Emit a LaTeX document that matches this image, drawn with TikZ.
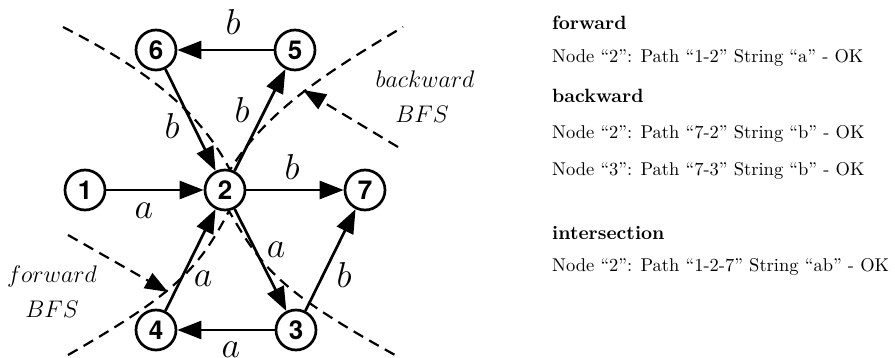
\RequirePackage{fix-cm}
\documentclass[tikz,border=0pt]{standalone}
\usepackage{fontspec}
\newfontfamily\numfont{TeX Gyre Heros}
\newfontfamily\logfont{lmroman10-regular}[Extension=.otf,BoldFont=lmroman10-bold]
\usetikzlibrary{arrows.meta}

\begin{document}
\begin{tikzpicture}[x=1pt,y=-1pt,
  vtx/.style={circle,draw,line width=2.7pt,fill=white,minimum size=40pt,inner sep=0pt,
    font=\numfont\bfseries\fontsize{26}{26}\selectfont},
  edge/.style={line width=2.7pt,-{Triangle[length=24pt,width=18pt]}},
  lbl/.style={inner sep=0pt,font=\fontsize{36}{40}\selectfont},
  cut/.style={line width=2.2pt,dash pattern=on 11pt off 7pt},
  hint/.style={cut,-{Triangle[length=23pt,width=17pt]}},
  tag/.style={inner sep=0pt,anchor=base,font=\fontsize{24}{28}\selectfont},
  info/.style={inner sep=0pt,anchor=base west,font=\logfont\fontsize{18.5}{22}\selectfont},
  head/.style={inner sep=0pt,anchor=base west,font=\logfont\bfseries\fontsize{19.2}{22}\selectfont}]

\useasboundingbox (0,0) rectangle (895,358);

% frontier curves of the two searches
\draw[cut] (63,27) .. controls (131,62) and (195,102) .. (230,170)
           .. controls (268,108) and (336,67) .. (403,27);
\draw[cut] (68,355) .. controls (178,292) and (199,268) .. (229,211)
           .. controls (262,268) and (278,290) .. (395,355);

% pointers to the frontiers
\coordinate (bwtail) at (398,147);
\coordinate (bwtip) at (303,90);
\coordinate (fwtail) at (68,235);
\coordinate (fwtip) at (168,292);
\draw[hint] (bwtail) -- (bwtip);
\draw[hint] (fwtail) -- (fwtip);

\node[tag] (bwA) at (425,88) {$backward$};
\node[tag] (bwB) at (422,123) {$BFS$};
\node[tag] (fwA) at (52,283) {$forward$};
\node[tag] (fwB) at (52,318) {$BFS$};

% graph vertices
\node[vtx] (n1) at (85,190) {1};
\node[vtx] (n2) at (225,190) {2};
\node[vtx] (n7) at (365,190) {7};
\node[vtx] (n6) at (156,50) {6};
\node[vtx] (n5) at (295,50) {5};
\node[vtx] (n4) at (156,330) {4};
\node[vtx] (n3) at (296,330) {3};

% labelled edges
\draw[edge] (n5) -- (n6);
\draw[edge] (n6) -- (n2);
\draw[edge] (n2) -- (n5);
\draw[edge] (n1) -- (n2);
\draw[edge] (n2) -- (n7);
\draw[edge] (n2) -- (n3);
\draw[edge] (n4) -- (n2);
\draw[edge] (n3) -- (n4);
\draw[edge] (n3) -- (n7);

\node[lbl] (e56) at (233,22) {$b$};
\node[lbl] (e62) at (172,126) {$b$};
\node[lbl] (e25) at (242,110) {$b$};
\node[lbl] (e27) at (292,167) {$b$};
\node[lbl] (e37) at (344,275) {$b$};
\node[lbl] (e12) at (144,211) {$a$};
\node[lbl] (e23) at (276,250) {$a$};
\node[lbl] (e42) at (203,279) {$a$};
\node[lbl] (e34) at (231,350) {$a$};

% search log
\node[head] (h1) at (552,30) {forward};
\node[info] (r1) at (552,63) {Node “2”: Path “1-2” String “a” - OK};
\node[head] (h2) at (552,103) {backward};
\node[info] (r2) at (552,139) {Node “2”: Path “7-2” String “b” - OK};
\node[info] (r3) at (552,176) {Node “3”: Path “7-3” String “b” - OK};
\node[head] (h3) at (552,240) {intersection};
\node[info] (r4) at (552,272) {Node “2”: Path “1-2-7” String “ab” - OK};
\end{tikzpicture}
\end{document}
